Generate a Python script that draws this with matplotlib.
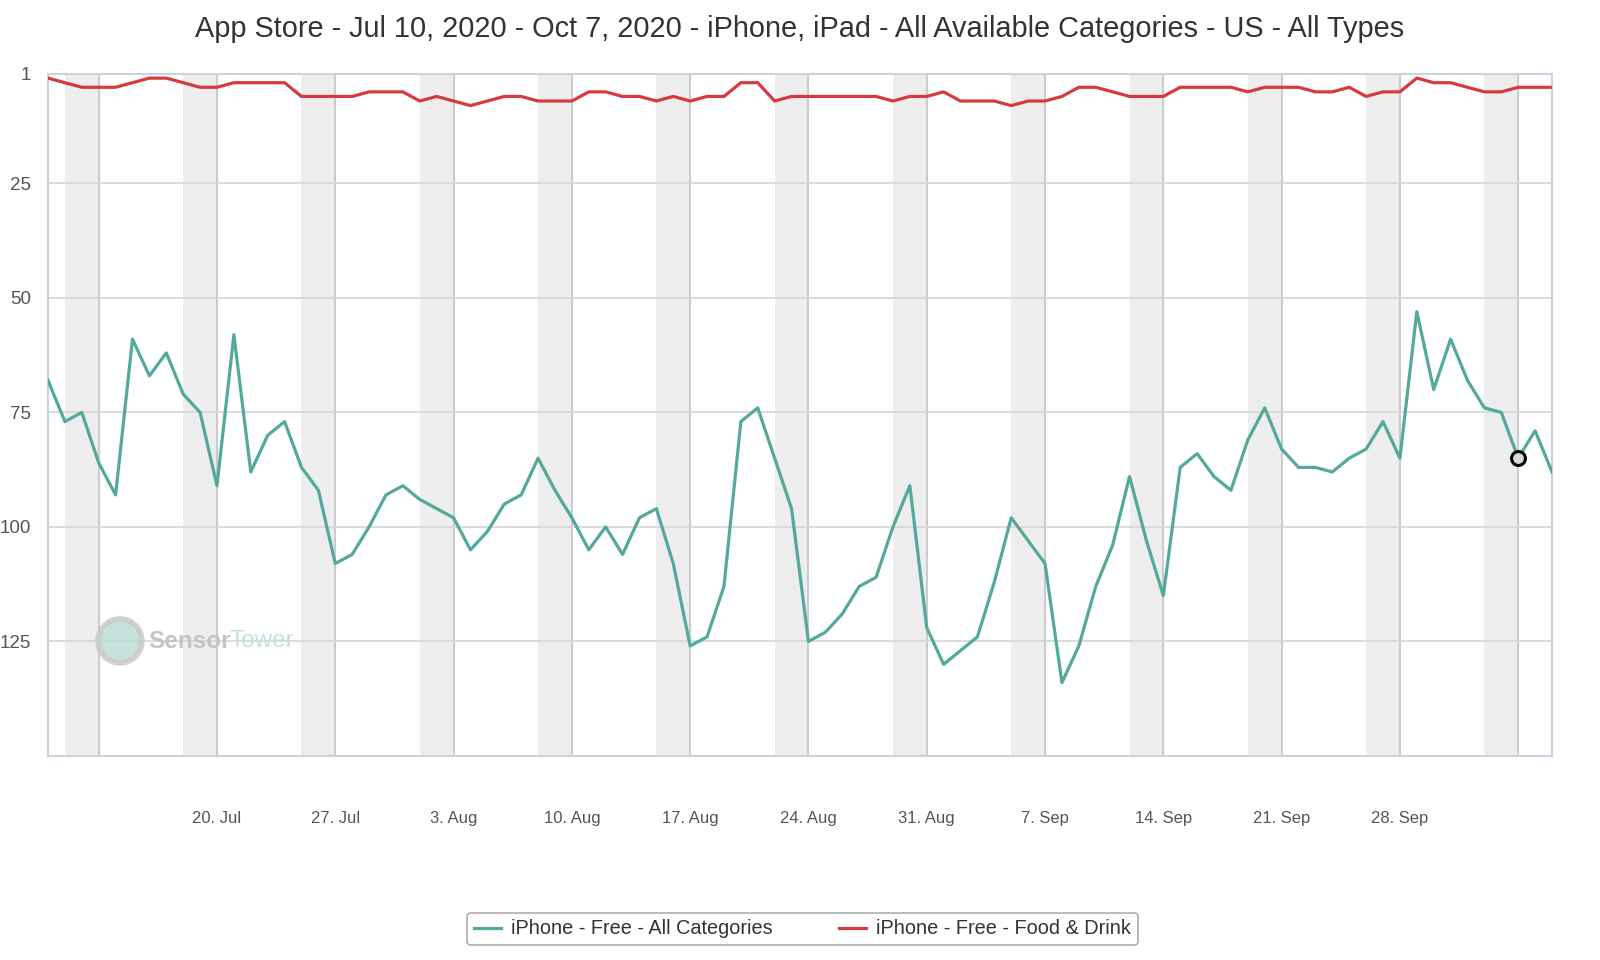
import matplotlib
matplotlib.use("Agg")
import matplotlib.pyplot as plt
from matplotlib.patches import Circle
import pandas as pd

plt.rcParams['font.family'] = ['Liberation Sans', 'DejaVu Sans']

# daily ranks, Jul 10 2020 .. Oct 7 2020
start_date = "2020-07-10"
end_date = "2020-10-07"

all_categories = [68, 77, 75, 86, 93, 59, 67, 62, 71, 75,
                  91, 58, 88, 80, 77, 87, 92, 108, 106, 100,
                  93, 91, 94, 96, 98, 105, 101, 95, 93, 85,
                  92, 98, 105, 100, 106, 98, 96, 108, 126, 124,
                  113, 77, 74, 85, 96, 125, 123, 119, 113, 111,
                  100, 91, 122, 130, 127, 124, 112, 98, 103, 108,
                  134, 126, 113, 104, 89, 103, 115, 87, 84, 89,
                  92, 81, 74, 83, 87, 87, 88, 85, 83, 77,
                  85, 53, 70, 59, 68, 74, 75, 85, 79, 88]

food_drink = [2, 3, 4, 4, 4, 3, 2, 2, 3, 4,
              4, 3, 3, 3, 3, 6, 6, 6, 6, 5,
              5, 5, 7, 6, 7, 8, 7, 6, 6, 7,
              7, 7, 5, 5, 6, 6, 7, 6, 7, 6,
              6, 3, 3, 7, 6, 6, 6, 6, 6, 6,
              7, 6, 6, 5, 7, 7, 7, 8, 7, 7,
              6, 4, 4, 5, 6, 6, 6, 4, 4, 4,
              4, 5, 4, 4, 4, 5, 5, 4, 6, 5,
              5, 2, 3, 3, 4, 5, 5, 4, 4, 4]

series_names = ["iPhone - Free - All Categories", "iPhone - Free - Food & Drink"]
series_colors = ["#52a99c", "#d63a3f"]
y_ticks = [1, 25, 50, 75, 100, 125]
highlight_date = "2020-10-05"

dates = pd.date_range(start_date, end_date, freq="D")

fig = plt.figure(figsize=(16, 9.6), dpi=100)
ax = fig.add_axes([0.03, 0.2126, 0.94, 0.7108])

# weekend bands (Sat 00:00 -> Mon 00:00)
for d in dates:
    if d.weekday() == 5:
        ax.axvspan(d, d + pd.Timedelta(days=2), color="#eeeeee", lw=0, zorder=0)

ax.plot(dates, all_categories, color=series_colors[0], lw=2.3, label=series_names[0], zorder=3)
ax.plot(dates, food_drink, color=series_colors[1], lw=2.3, label=series_names[1], zorder=3)

hi = dates.get_loc(pd.Timestamp(highlight_date))
ax.plot(dates[hi], all_categories[hi], 'o', ms=10, mfc="#d8d8d8", mec="black", mew=2.2, zorder=4)

ax.set_xlim(dates[0], dates[-1])
ax.set_ylim(150, 1)
ax.set_yticks(y_ticks)
ax.grid(axis="y", color="#d6d6d6", lw=1.2, zorder=1)

mondays = [d for d in dates if d.weekday() == 0]
labels = ["" if (d == mondays[0] or d == mondays[-1]) else "{}. {}".format(d.day, d.strftime("%b"))
          for d in mondays]
ax.set_xticks(mondays)
ax.set_xticklabels(labels)
ax.grid(axis="x", color="#cccccc", lw=1.5, zorder=1)

ax.tick_params(axis="x", length=0, pad=40, labelsize=12, labelcolor="#555555")
ax.tick_params(axis="y", length=0, pad=12, labelsize=13.5, labelcolor="#555555")

for s in ax.spines.values():
    s.set_color("#c8d4e3")
    s.set_linewidth(1.5)

fig.text(0.5, 1 - 29 / 960, "App Store - Jul 10, 2020 - Oct 7, 2020 - iPhone, iPad - All Available Categories - US - All Types",
         ha="center", va="center", fontsize=20.8, color="#333333")

# watermark
fig.patches.append(Circle((1.20, 9.6 - 6.41), 0.22, transform=fig.dpi_scale_trans,
                          facecolor="#bcdcd6", edgecolor="#cacaca", lw=4, alpha=0.85,
                          zorder=2))
fig.text(148 / 1600, 1 - 641 / 960, "Sensor", ha="left", va="center", fontsize=17.5,
         fontweight="bold", color="#c4c4c4", zorder=2)
fig.text(229 / 1600, 1 - 641 / 960, "Tower", ha="left", va="center", fontsize=17.5,
         color="#c6e1dc", zorder=2)

leg = fig.legend(loc="center", bbox_to_anchor=(0.5015, 1 - 929 / 960), ncol=2, frameon=True,
                 fontsize=14.3, handlelength=1.4, columnspacing=3.3, handletextpad=0.5,
                 borderpad=0.35, fancybox=True)
leg.get_frame().set_edgecolor("#999999")
leg.get_frame().set_linewidth(1.2)
for t in leg.get_texts():
    t.set_color("#333333")

fig.savefig("out.png", dpi=100)
